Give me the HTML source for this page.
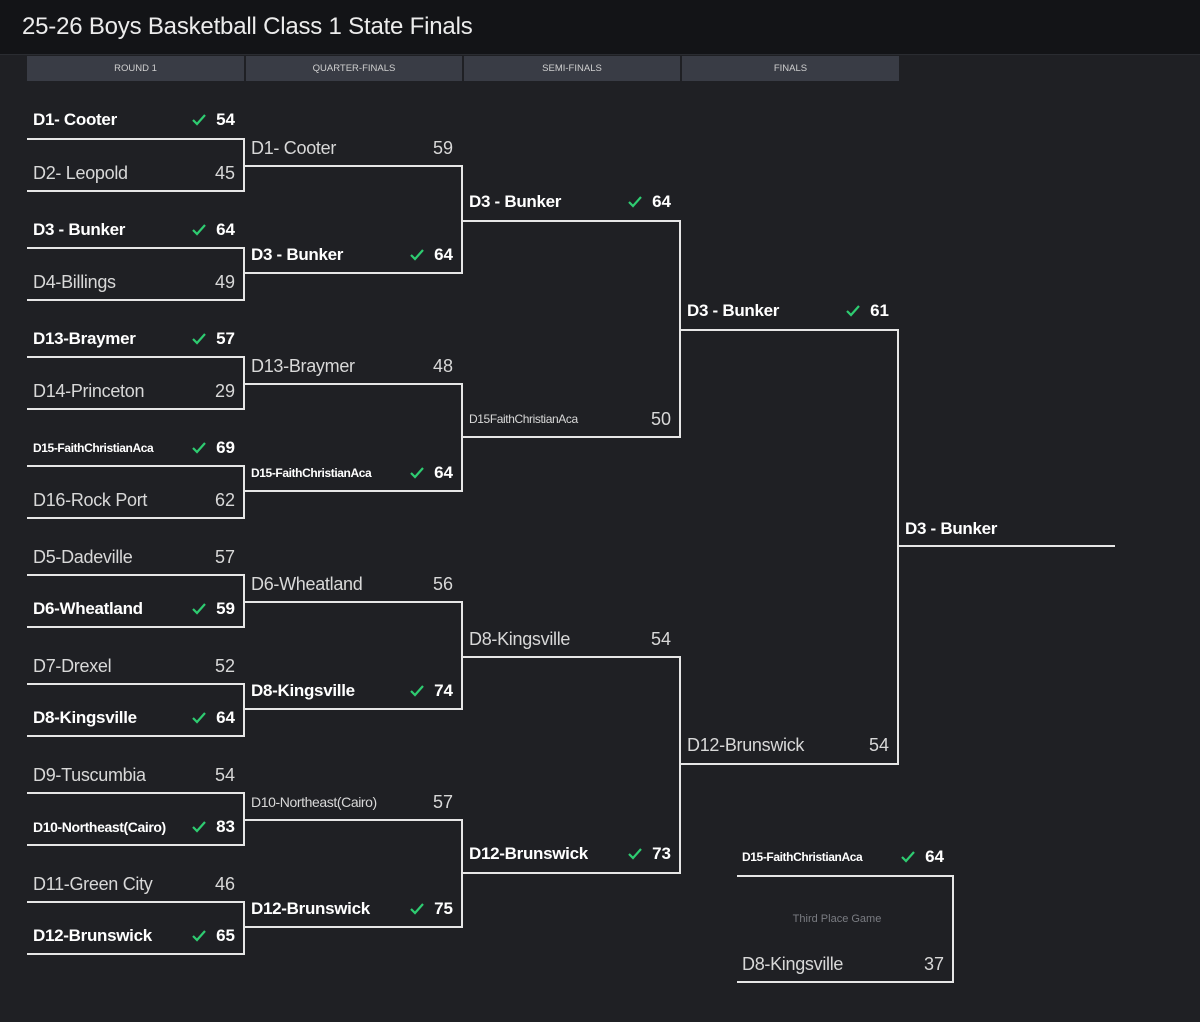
<!DOCTYPE html>
<html><head><meta charset="utf-8">
<style>
body{margin:0;width:1200px;height:1022px;background:#1f2024;overflow:hidden;font-family:"Liberation Sans",sans-serif;position:relative}
.top{position:absolute;left:0;top:0;width:1200px;height:54px;background:#131417;border-bottom:1px solid #2a2c31}
.top h1{margin:0;position:absolute;left:22px;top:13px;font-size:24px;font-weight:normal;color:#ececec;letter-spacing:-0.2px}
.rh{position:absolute;top:56px;height:25px;background:#393c45;color:#d0d0d0;font-size:9.5px;line-height:26px;text-align:center}
.h{position:absolute;height:2px;background:#e6e6e6}
.v{position:absolute;width:2px;background:#e6e6e6}
.r{position:absolute;width:202px;height:24px;line-height:26px;color:#d8d8d8;font-size:18px;font-weight:300}
.r .n{position:absolute;left:0;top:0;white-space:nowrap;letter-spacing:-0.3px}
.r .s{position:absolute;right:0;top:0}
.r.w{color:#fff;font-weight:bold;font-size:17px}
.r.sm .n{font-size:12px;font-weight:bold;letter-spacing:-0.4px}
.r.sml .n{font-size:12px;font-weight:normal;letter-spacing:-0.4px}
.ck{position:absolute;right:29px;top:6px;width:14px;height:14px}
.tp{position:absolute;left:737px;top:913px;width:200px;text-align:center;font-size:11px;color:#7a7c82}
</style></head><body>
<div class="top"><h1>25-26 Boys Basketball Class 1 State Finals</h1></div>
<div class="rh" style="left:27px;width:217px">ROUND 1</div>
<div class="rh" style="left:246px;width:216px">QUARTER-FINALS</div>
<div class="rh" style="left:464px;width:216px">SEMI-FINALS</div>
<div class="rh" style="left:682px;width:217px">FINALS</div>

<div class="h" style="left:27px;top:138px;width:218px"></div><div class="v" style="left:243px;top:138px;height:54px"></div><div class="h" style="left:27px;top:190px;width:218px"></div>
<div class="h" style="left:27px;top:247px;width:218px"></div><div class="v" style="left:243px;top:247px;height:54px"></div><div class="h" style="left:27px;top:299px;width:218px"></div>
<div class="h" style="left:27px;top:356px;width:218px"></div><div class="v" style="left:243px;top:356px;height:54px"></div><div class="h" style="left:27px;top:408px;width:218px"></div>
<div class="h" style="left:27px;top:465px;width:218px"></div><div class="v" style="left:243px;top:465px;height:54px"></div><div class="h" style="left:27px;top:517px;width:218px"></div>
<div class="h" style="left:27px;top:574px;width:218px"></div><div class="v" style="left:243px;top:574px;height:54px"></div><div class="h" style="left:27px;top:626px;width:218px"></div>
<div class="h" style="left:27px;top:683px;width:218px"></div><div class="v" style="left:243px;top:683px;height:54px"></div><div class="h" style="left:27px;top:735px;width:218px"></div>
<div class="h" style="left:27px;top:792px;width:218px"></div><div class="v" style="left:243px;top:792px;height:54px"></div><div class="h" style="left:27px;top:844px;width:218px"></div>
<div class="h" style="left:27px;top:901px;width:218px"></div><div class="v" style="left:243px;top:901px;height:54px"></div><div class="h" style="left:27px;top:953px;width:218px"></div>
<div class="h" style="left:245px;top:165px;width:218px"></div><div class="v" style="left:461px;top:165px;height:109px"></div><div class="h" style="left:245px;top:272px;width:218px"></div>
<div class="h" style="left:245px;top:383px;width:218px"></div><div class="v" style="left:461px;top:383px;height:109px"></div><div class="h" style="left:245px;top:490px;width:218px"></div>
<div class="h" style="left:245px;top:601px;width:218px"></div><div class="v" style="left:461px;top:601px;height:109px"></div><div class="h" style="left:245px;top:708px;width:218px"></div>
<div class="h" style="left:245px;top:819px;width:218px"></div><div class="v" style="left:461px;top:819px;height:109px"></div><div class="h" style="left:245px;top:926px;width:218px"></div>
<div class="h" style="left:463px;top:220px;width:218px"></div><div class="v" style="left:679px;top:220px;height:218px"></div><div class="h" style="left:463px;top:436px;width:218px"></div>
<div class="h" style="left:463px;top:656px;width:218px"></div><div class="v" style="left:679px;top:656px;height:218px"></div><div class="h" style="left:463px;top:872px;width:218px"></div>
<div class="h" style="left:681px;top:329px;width:218px"></div><div class="v" style="left:897px;top:329px;height:436px"></div><div class="h" style="left:681px;top:763px;width:218px"></div>
<div class="h" style="left:899px;top:545px;width:216px"></div>
<div class="h" style="left:737px;top:875px;width:217px"></div><div class="v" style="left:952px;top:875px;height:108px"></div><div class="h" style="left:737px;top:981px;width:217px"></div>
<div class="tp">Third Place Game</div>

<div class="r w" style="left:33px;top:107px"><span class="n">D1- Cooter</span><svg class="ck" viewBox="0 0 14 14"><path d="M1 7l4 4 8-9" stroke="#2ecc71" stroke-width="2.2" fill="none"/></svg><span class="s">54</span></div>
<div class="r" style="left:33px;top:160px"><span class="n">D2- Leopold</span><span class="s">45</span></div>
<div class="r w" style="left:33px;top:217px"><span class="n">D3 - Bunker</span><svg class="ck" viewBox="0 0 14 14"><path d="M1 7l4 4 8-9" stroke="#2ecc71" stroke-width="2.2" fill="none"/></svg><span class="s">64</span></div>
<div class="r" style="left:33px;top:269px"><span class="n">D4-Billings</span><span class="s">49</span></div>
<div class="r w" style="left:33px;top:326px"><span class="n">D13-Braymer</span><svg class="ck" viewBox="0 0 14 14"><path d="M1 7l4 4 8-9" stroke="#2ecc71" stroke-width="2.2" fill="none"/></svg><span class="s">57</span></div>
<div class="r" style="left:33px;top:378px"><span class="n">D14-Princeton</span><span class="s">29</span></div>
<div class="r w sm" style="left:33px;top:435px"><span class="n">D15-FaithChristianAca</span><svg class="ck" viewBox="0 0 14 14"><path d="M1 7l4 4 8-9" stroke="#2ecc71" stroke-width="2.2" fill="none"/></svg><span class="s">69</span></div>
<div class="r" style="left:33px;top:487px"><span class="n">D16-Rock Port</span><span class="s">62</span></div>
<div class="r" style="left:33px;top:544px"><span class="n">D5-Dadeville</span><span class="s">57</span></div>
<div class="r w" style="left:33px;top:596px"><span class="n">D6-Wheatland</span><svg class="ck" viewBox="0 0 14 14"><path d="M1 7l4 4 8-9" stroke="#2ecc71" stroke-width="2.2" fill="none"/></svg><span class="s">59</span></div>
<div class="r" style="left:33px;top:653px"><span class="n">D7-Drexel</span><span class="s">52</span></div>
<div class="r w" style="left:33px;top:705px"><span class="n">D8-Kingsville</span><svg class="ck" viewBox="0 0 14 14"><path d="M1 7l4 4 8-9" stroke="#2ecc71" stroke-width="2.2" fill="none"/></svg><span class="s">64</span></div>
<div class="r" style="left:33px;top:762px"><span class="n">D9-Tuscumbia</span><span class="s">54</span></div>
<div class="r w sm" style="left:33px;top:814px"><span class="n" style="font-size:14px">D10-Northeast(Cairo)</span><svg class="ck" viewBox="0 0 14 14"><path d="M1 7l4 4 8-9" stroke="#2ecc71" stroke-width="2.2" fill="none"/></svg><span class="s">83</span></div>
<div class="r" style="left:33px;top:871px"><span class="n">D11-Green City</span><span class="s">46</span></div>
<div class="r w" style="left:33px;top:923px"><span class="n">D12-Brunswick</span><svg class="ck" viewBox="0 0 14 14"><path d="M1 7l4 4 8-9" stroke="#2ecc71" stroke-width="2.2" fill="none"/></svg><span class="s">65</span></div>

<div class="r" style="left:251px;top:135px"><span class="n">D1- Cooter</span><span class="s">59</span></div>
<div class="r w" style="left:251px;top:242px"><span class="n">D3 - Bunker</span><svg class="ck" viewBox="0 0 14 14"><path d="M1 7l4 4 8-9" stroke="#2ecc71" stroke-width="2.2" fill="none"/></svg><span class="s">64</span></div>
<div class="r" style="left:251px;top:353px"><span class="n">D13-Braymer</span><span class="s">48</span></div>
<div class="r w sm" style="left:251px;top:460px"><span class="n">D15-FaithChristianAca</span><svg class="ck" viewBox="0 0 14 14"><path d="M1 7l4 4 8-9" stroke="#2ecc71" stroke-width="2.2" fill="none"/></svg><span class="s">64</span></div>
<div class="r" style="left:251px;top:571px"><span class="n">D6-Wheatland</span><span class="s">56</span></div>
<div class="r w" style="left:251px;top:678px"><span class="n">D8-Kingsville</span><svg class="ck" viewBox="0 0 14 14"><path d="M1 7l4 4 8-9" stroke="#2ecc71" stroke-width="2.2" fill="none"/></svg><span class="s">74</span></div>
<div class="r sml" style="left:251px;top:789px"><span class="n" style="font-size:14px">D10-Northeast(Cairo)</span><span class="s">57</span></div>
<div class="r w" style="left:251px;top:896px"><span class="n">D12-Brunswick</span><svg class="ck" viewBox="0 0 14 14"><path d="M1 7l4 4 8-9" stroke="#2ecc71" stroke-width="2.2" fill="none"/></svg><span class="s">75</span></div>

<div class="r w" style="left:469px;top:189px"><span class="n">D3 - Bunker</span><svg class="ck" viewBox="0 0 14 14"><path d="M1 7l4 4 8-9" stroke="#2ecc71" stroke-width="2.2" fill="none"/></svg><span class="s">64</span></div>
<div class="r sml" style="left:469px;top:406px"><span class="n">D15FaithChristianAca</span><span class="s">50</span></div>
<div class="r" style="left:469px;top:626px"><span class="n">D8-Kingsville</span><span class="s">54</span></div>
<div class="r w" style="left:469px;top:841px"><span class="n">D12-Brunswick</span><svg class="ck" viewBox="0 0 14 14"><path d="M1 7l4 4 8-9" stroke="#2ecc71" stroke-width="2.2" fill="none"/></svg><span class="s">73</span></div>

<div class="r w" style="left:687px;top:298px"><span class="n">D3 - Bunker</span><svg class="ck" viewBox="0 0 14 14"><path d="M1 7l4 4 8-9" stroke="#2ecc71" stroke-width="2.2" fill="none"/></svg><span class="s">61</span></div>
<div class="r" style="left:687px;top:732px"><span class="n">D12-Brunswick</span><span class="s">54</span></div>

<div class="r w" style="left:905px;top:516px"><span class="n">D3 - Bunker</span></div>

<div class="r w sm" style="left:742px;top:844px"><span class="n">D15-FaithChristianAca</span><svg class="ck" viewBox="0 0 14 14"><path d="M1 7l4 4 8-9" stroke="#2ecc71" stroke-width="2.2" fill="none"/></svg><span class="s">64</span></div>
<div class="r" style="left:742px;top:951px"><span class="n">D8-Kingsville</span><span class="s">37</span></div>
</body></html>
